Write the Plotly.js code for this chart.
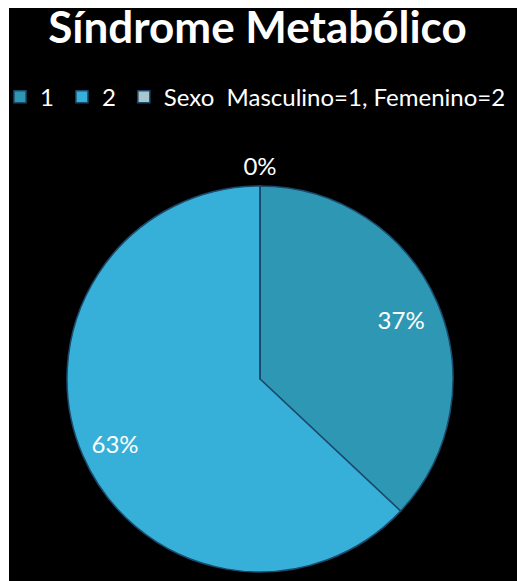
<!DOCTYPE html>
<html>
<head>
<meta charset="utf-8">
<script src="https://cdn.plot.ly/plotly-3.0.1.min.js"></script>
<style>
  html, body { margin: 0; padding: 0; background: #ffffff; }
  #chart { position: absolute; left: 0; top: 0; width: 517px; height: 581px; }
  .frame { position: absolute; background: #ffffff; z-index: 10; }
  #frameLeft { left: 0; top: 0; width: 9px; height: 581px; }
  #frameTop { left: 0; top: 0; width: 517px; height: 8px; }
</style>
</head>
<body>
<div id="chart"></div>
<div class="frame" id="frameLeft"></div>
<div class="frame" id="frameTop"></div>
<script>
const categories = ["1", "2", "Sexo  Masculino=1, Femenino=2"];
const values = [37, 63, 0];
const sliceColors = ["#2d97b4", "#36b0d8", "#a9c6cf"];

const total = values.reduce((a, b) => a + b, 0);
const pct = values.map(v => Math.round(v / total * 100) + "%");
// legend spacing: pad the short legend labels with a thin space
const legendLabels = categories.map((c, i) => i < categories.length - 1 ? c + "\u2009" : c);
const FONT = "Lato, 'Open Sans', sans-serif";
const CLEAR = ["rgba(0,0,0,0)", "rgba(0,0,0,0)", "rgba(0,0,0,0)"];

const pieDomain = { x: [67 / 517, 453 / 517], y: [9 / 581, 395 / 581] };
const labelDomain = { x: [58 / 517, 462 / 517], y: [0, 430 / 581] };

function labelTrace(hole, positions, titleColor) {
  return {
    type: "pie",
    labels: legendLabels,
    values: values,
    sort: false,
    direction: "clockwise",
    rotation: 0,
    hole: hole,
    showlegend: false,
    marker: { colors: CLEAR, line: { width: 0 } },
    text: pct,
    textinfo: "text",
    textposition: positions,
    insidetextorientation: "horizontal",
    textfont: { family: FONT, size: 24, color: "#ffffff" },
    title: { text: pct[2], position: "top center", font: { family: FONT, size: 24, color: titleColor } },
    domain: labelDomain,
    hoverinfo: "none"
  };
}

const data = [
  {
    type: "pie",
    labels: legendLabels,
    values: values,
    sort: false,
    direction: "clockwise",
    rotation: 0,
    marker: { colors: sliceColors, line: { color: "#1b4a6c", width: 1.5 } },
    textinfo: "none",
    domain: pieDomain,
    hoverinfo: "none"
  },
  labelTrace(0.534, ["inside", "none", "none"], "#ffffff"),
  labelTrace(0.576, ["none", "inside", "none"], "rgba(0,0,0,0)")
];

const layout = {
  width: 517,
  height: 581,
  paper_bgcolor: "#000000",
  plot_bgcolor: "#000000",
  margin: { l: 0, r: 0, t: 0, b: 0, autoexpand: false },
  title: {
    text: "<b>Síndrome Metabólico</b>",
    font: { family: FONT, size: 44, color: "#ffffff" },
    x: 0.498, xanchor: "center",
    y: 0.9532, yanchor: "middle", yref: "container"
  },
  showlegend: true,
  legend: {
    orientation: "h",
    x: 0, xanchor: "left",
    y: 0.833, yanchor: "middle",
    font: { family: FONT, size: 24, color: "#ffffff" },
    bgcolor: "rgba(0,0,0,0)"
  }
};

Plotly.newPlot("chart", data, layout, { displayModeBar: false, staticPlot: true });
</script>
</body>
</html>
